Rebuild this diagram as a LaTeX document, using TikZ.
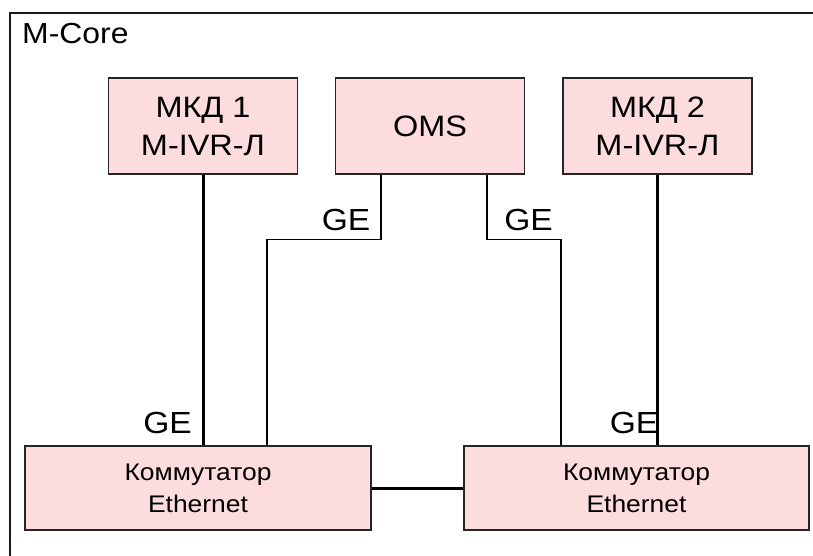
\documentclass[tikz,border=0pt]{standalone}
\usepackage{fontspec}
\setmainfont[FakeStretch=1.1]{Liberation Sans}
\usepackage{xcolor}
\usetikzlibrary{positioning, calc}
\definecolor{boxpink}{RGB}{252,220,220}

\begin{document}
\begin{tikzpicture}[
    x=1pt, y=-1pt,
    box/.style={rectangle, draw=black!85, line width=1.2pt, fill=boxpink, align=center, inner sep=0pt, font=\fontsize{29.5}{38}\selectfont},
    switchbox/.style={box, minimum width=346pt, minimum height=84pt, font=\fontsize{24}{32}\selectfont},
    unitbox/.style={box, minimum width=189pt, minimum height=96pt},
    ge/.style={anchor=base, inner sep=0pt, font=\fontsize{30.5}{36}\selectfont},
    fatlink/.style={line width=3pt},
    thinlink/.style={line width=1.3pt}
]
\useasboundingbox (0,0) rectangle (813,556);

% outer frame
\draw[line width=2pt, black!90] (10,570) -- (10,13) -- (830,13);
\node[anchor=base west, inner sep=0pt, font=\fontsize{29}{36}\selectfont] (core) at (22,44) {M-Core};

\node[unitbox] (mkd1) at (203,126) {МКД 1\\M-IVR-Л};
\node[unitbox] (oms) at (430,126) {OMS};
\node[unitbox] (mkd2) at (657.5,126) {МКД 2\\M-IVR-Л};

\node[switchbox] (sw1) at (198,488) {Коммутатор\\Ethernet};
\node[switchbox, minimum width=345pt] (sw2) at (636.5,488) {Коммутатор\\Ethernet};

\draw[fatlink] (mkd1.south) -- (mkd1.south |- sw1.north);
\draw[fatlink] (mkd2.south) -- (mkd2.south |- sw2.north);
\draw[thinlink] ([xshift=-49]oms.south) -- ++(0,65) -| ([xshift=69]sw1.north);
\draw[thinlink] ([xshift=57]oms.south) -- ++(0,65) -| ([xshift=-75.5]sw2.north);
\draw[fatlink] (sw1.east) -- (sw2.west);

% labels
\node[ge] (geoms1) at (346,230) {GE};
\node[ge] (geoms2) at (528.5,230) {GE};
\node[ge] (gemkd1) at (167.5,433) {GE};
\node[ge] (gemkd2) at (634,433) {GE};

\end{tikzpicture}
\end{document}
